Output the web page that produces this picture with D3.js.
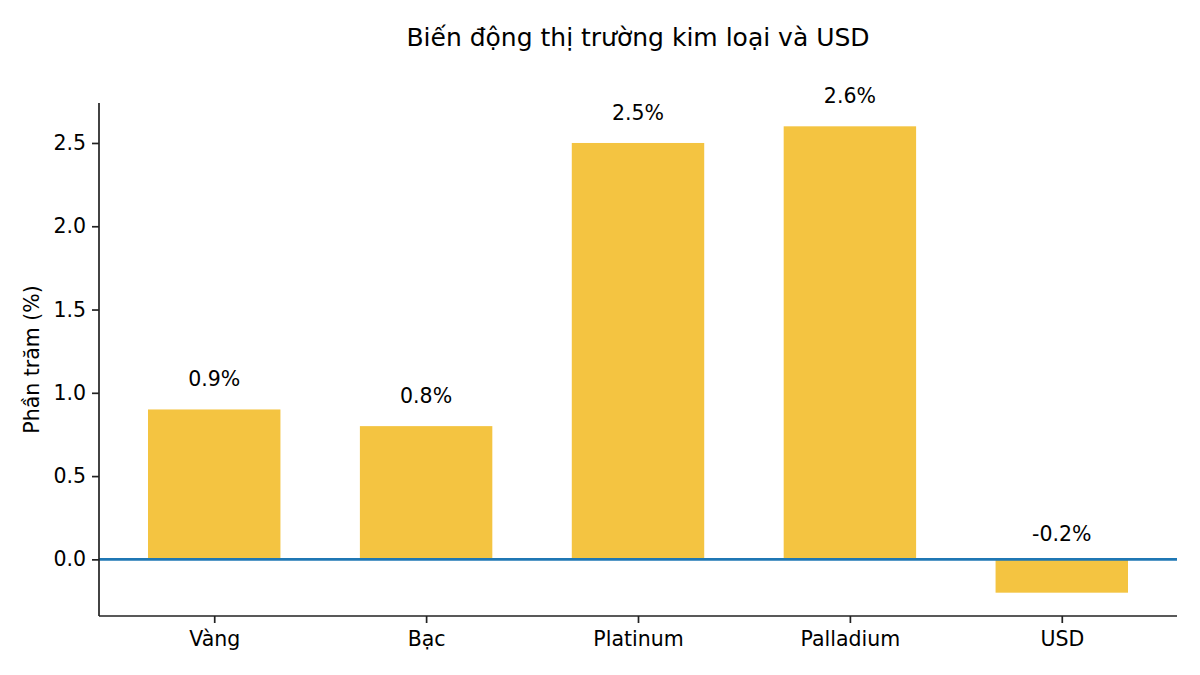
<!DOCTYPE html>
<html><head><meta charset="utf-8">
<script src="https://cdn.jsdelivr.net/npm/d3@7"></script>
<style>
html,body{margin:0;padding:0;background:#fff;}
text{font-family:"DejaVu Sans",sans-serif;fill:#000;}
</style></head>
<body>
<svg id="c" width="1200" height="675"></svg>
<script>
const categories = ["Vàng", "Bạc", "Platinum", "Palladium", "USD"];
const values = [0.9, 0.8, 2.5, 2.6, -0.2];
const yTicks = [0.0, 0.5, 1.0, 1.5, 2.0, 2.5];
const title = "Biến động thị trường kim loại và USD";
const yLabel = "Phần trăm (%)";

const svg = d3.select("#c");
const L = 99, R = 1177, T = 103, B = 616;
const barW = 0.625;
const n = categories.length;
const xlo = -barW/2, xhi = (n-1) + barW/2, xm = (xhi-xlo)*0.05;
const x = d3.scaleLinear().domain([xlo - xm, xhi + xm]).range([L, R]);
const vmin = Math.min(0, d3.min(values)), vmax = d3.max(values);
const ym = (vmax - vmin)*0.05;
const y = d3.scaleLinear().domain([vmin - ym, vmax + ym]).range([B, T]);

const barColor = "#F4C441";
const fs = 20.5;

svg.append("g").selectAll("rect").data(values).join("rect")
  .attr("x", (d,i) => x(i - barW/2))
  .attr("width", (d,i) => x(i + barW/2) - x(i - barW/2))
  .attr("y", d => y(Math.max(0,d)))
  .attr("height", d => Math.abs(y(d) - y(0)))
  .attr("fill", barColor);

// zero line
svg.append("line").attr("x1", L).attr("x2", R).attr("y1", y(0)).attr("y2", y(0))
  .attr("stroke", "#1f77b4").attr("stroke-width", 2.6);

// value labels
svg.append("g").selectAll("text").data(values).join("text")
  .attr("x", (d,i) => x(i))
  .attr("y", d => d >= 0 ? y(d) - 23 : y(0) - 18)
  .attr("text-anchor", "middle")
  .attr("font-size", fs)
  .text(d => d.toFixed(1) + "%");

// axes
const yAxis = d3.axisLeft(y).tickValues(yTicks).tickFormat(d3.format(".1f")).tickSize(7).tickPadding(6);
const gy = svg.append("g").attr("transform", `translate(${L},0)`).call(yAxis);
const xAxis = d3.axisBottom(x).tickValues(d3.range(n)).tickFormat(i => categories[i]).tickSize(7).tickPadding(8);
const gx = svg.append("g").attr("transform", `translate(0,${B})`).call(xAxis);
[gx, gy].forEach(g => {
  g.select(".domain").attr("stroke", "#222").attr("stroke-width", 1.7);
  g.selectAll(".tick line").attr("stroke", "#222").attr("stroke-width", 1.7);
  g.selectAll(".tick text").attr("font-size", fs).attr("font-family", "DejaVu Sans").attr("fill", "#000");
});
gy.select(".domain").attr("d", `M0,${B}V${T}`);
gx.select(".domain").attr("d", `M${L},0H${R}`);

svg.append("text").attr("x", (L+R)/2).attr("y", 46).attr("text-anchor", "middle")
  .attr("font-size", 25).text(title);
svg.append("text").attr("transform", `translate(39,${(T+B)/2}) rotate(-90)`)
  .attr("text-anchor", "middle").attr("font-size", fs).text(yLabel);
</script>
</body></html>
